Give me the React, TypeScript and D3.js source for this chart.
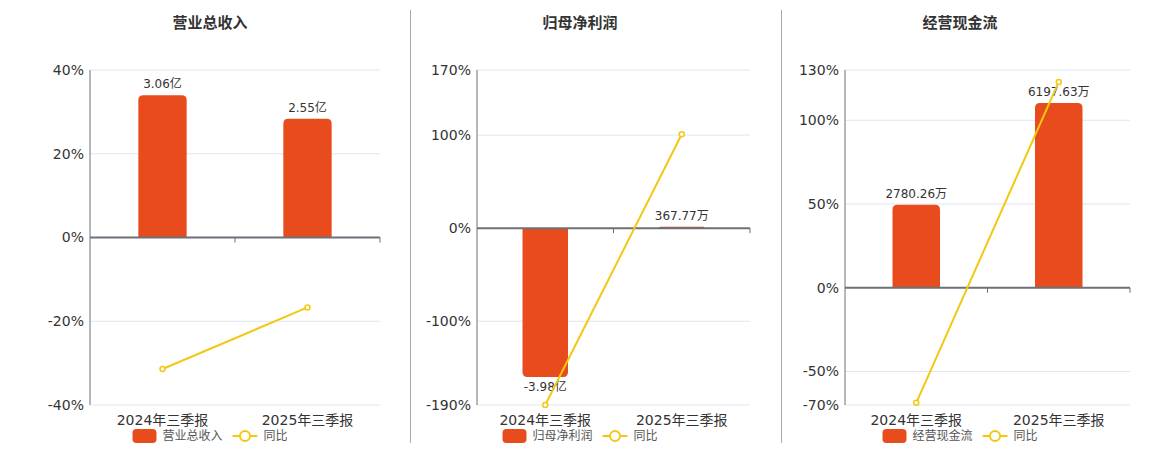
import * as d3 from 'd3';

// categories shared by all three panels
const categories = ['2024年三季报', '2025年三季报'];

// 营业总收入 (亿) and 同比 (%)
const revenue = [3.06, 2.55];
const revenueLabels = ['3.06亿', '2.55亿'];
const revenueYoY = [-31.4, -16.7];
const revenueTicks = [40, 20, 0, -20, -40];

// 归母净利润 (亿) and 同比 (%)
const netProfit = [-3.98, 0.0368];
const netProfitLabels = ['-3.98亿', '367.77万'];
const netProfitYoY = [-190, 100.9];
const netProfitTicks = [170, 100, 0, -100, -190];

// 经营现金流 (万) and 同比 (%)
const cashFlow = [2780.26, 6197.63];
const cashFlowLabels = ['2780.26万', '6197.63万'];
const cashFlowYoY = [-68.7, 122.9];
const cashFlowTicks = [130, 100, 50, 0, -50, -70];

const BAR = '#e84c1d';
const LINE = '#f2c811';
const AXIS = '#6e7079';
const GRID = '#e0e6f1';
const TEXT = '#333';
const FONT = '"DejaVu Sans", "Noto Sans CJK SC", sans-serif';

interface PanelProps {
  title: string;
  values: number[];
  labels: string[];
  yoy: number[];
  ticks: number[];
  barTop: number; // hidden bar axis maximum
  left: number;
  right: number;
  center: number;
}

const TOP = 70;
const BOTTOM = 405;

const Panel = ({ title, values, labels, yoy, ticks, barTop, left, right, center }: PanelProps) => {
  const lineMax = d3.max(ticks) as number;
  const lineMin = d3.min(ticks) as number;
  const y = d3.scaleLinear().domain([lineMin, lineMax]).range([BOTTOM, TOP]);
  const yBar = d3
    .scaleLinear()
    .domain([(barTop * lineMin) / lineMax, barTop])
    .range([BOTTOM, TOP]);
  const x = d3.scaleBand<string>().domain(categories).range([left, right]);
  const bw = x.bandwidth() / 3;
  const zero = y(0);

  const line = d3
    .line<number>()
    .x((_, i) => (x(categories[i]) as number) + x.bandwidth() / 2)
    .y((d) => y(d));

  const legendW = 155;
  const lx = center - legendW / 2;

  return (
    <g>
      <text x={center} y={28} textAnchor='middle' fontSize={15} fontWeight='bold' fill={TEXT}>
        {title}
      </text>

      {ticks.map((t) => (
        <g key={t}>
          {t !== 0 && <line x1={left} x2={right} y1={y(t)} y2={y(t)} stroke={GRID} />}
          <text x={left - 6} y={y(t)} dy='0.35em' textAnchor='end' fontSize={14} fill={TEXT}>
            {t}%
          </text>
        </g>
      ))}

      <line x1={left} x2={left} y1={TOP} y2={BOTTOM} stroke={AXIS} />

      {values.map((v, i) => {
        const cx = (x(categories[i]) as number) + x.bandwidth() / 2;
        const y0 = yBar(Math.max(0, v));
        const h = Math.abs(yBar(v) - yBar(0));
        const r = Math.min(5, h);
        const path =
          v >= 0
            ? `M${cx - bw / 2},${zero} V${y0 + r} Q${cx - bw / 2},${y0} ${cx - bw / 2 + r},${y0} H${cx + bw / 2 - r} Q${cx + bw / 2},${y0} ${cx + bw / 2},${y0 + r} V${zero} Z`
            : `M${cx - bw / 2},${zero} V${zero + h - r} Q${cx - bw / 2},${zero + h} ${cx - bw / 2 + r},${zero + h} H${cx + bw / 2 - r} Q${cx + bw / 2},${zero + h} ${cx + bw / 2},${zero + h - r} V${zero} Z`;
        return (
          <g key={i}>
            <path d={path} fill={BAR} />
            <text
              x={cx}
              y={v >= 0 ? yBar(v) - 7 : yBar(v) + 4}
              dy={v >= 0 ? 0 : '0.8em'}
              textAnchor='middle'
              fontSize={12}
              fill={TEXT}
            >
              {labels[i]}
            </text>
          </g>
        );
      })}

      <line x1={left} x2={right} y1={zero} y2={zero} stroke={AXIS} strokeWidth={2} />
      {[x.bandwidth() + left, right].map((tx) => (
        <line key={tx} x1={tx} x2={tx} y1={zero} y2={zero + 5} stroke={AXIS} />
      ))}

      <path d={line(yoy) as string} fill='none' stroke={LINE} strokeWidth={2} />
      {yoy.map((v, i) => (
        <circle
          key={i}
          cx={(x(categories[i]) as number) + x.bandwidth() / 2}
          cy={y(v)}
          r={2.5}
          fill='#fff'
          stroke={LINE}
          strokeWidth={1.5}
        />
      ))}

      {categories.map((c) => (
        <text
          key={c}
          x={(x(c) as number) + x.bandwidth() / 2}
          y={420}
          dy='0.35em'
          textAnchor='middle'
          fontSize={14}
          fill={TEXT}
        >
          {c}
        </text>
      ))}

      <rect x={lx} y={429} width={24} height={14} rx={4} fill={BAR} />
      <text x={lx + 30} y={436} dy='0.35em' fontSize={12} fill='#555'>
        {title}
      </text>
      <line x1={lx + 100} x2={lx + 125} y1={436} y2={436} stroke={LINE} strokeWidth={2} />
      <circle cx={lx + 112.5} cy={436} r={5} fill='#fff' stroke={LINE} strokeWidth={2} />
      <text x={lx + 131} y={436} dy='0.35em' fontSize={12} fill='#555'>
        同比
      </text>
    </g>
  );
};

const App = () => {
  return (
    <svg
      width={1160}
      height={450}
      style={{ position: 'absolute', left: 0, top: 0, fontFamily: FONT, background: '#fff' }}
    >
      <Panel
        title='营业总收入'
        values={revenue}
        labels={revenueLabels}
        yoy={revenueYoY}
        ticks={revenueTicks}
        barTop={3.6}
        left={90}
        right={380}
        center={210}
      />
      <line x1={410.5} x2={410.5} y1={10} y2={443} stroke='#aaa' />
      <Panel
        title='归母净利润'
        values={netProfit}
        labels={netProfitLabels}
        yoy={netProfitYoY}
        ticks={netProfitTicks}
        barTop={4.23}
        left={477}
        right={750}
        center={580}
      />
      <line x1={781.5} x2={781.5} y1={10} y2={443} stroke='#aaa' />
      <Panel
        title='经营现金流'
        values={cashFlow}
        labels={cashFlowLabels}
        yoy={cashFlowYoY}
        ticks={cashFlowTicks}
        barTop={7300}
        left={845}
        right={1130}
        center={960}
      />
    </svg>
  );
};

export default App;
